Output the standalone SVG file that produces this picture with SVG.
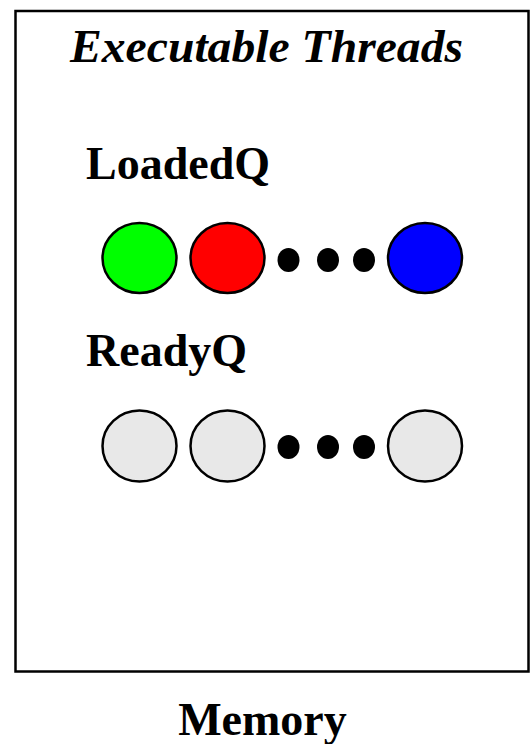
<svg xmlns="http://www.w3.org/2000/svg" width="530" height="744" viewBox="0 0 530 744">
  <style>
    .lbl { font-family: "Liberation Serif", "Times New Roman", serif; font-weight: bold; font-size: 46px; fill: #000; }
    .thread { stroke: #000; stroke-width: 2.5; }
    .dot { fill: #000; }
  </style>
  <rect width="530" height="744" fill="#fff"/>

  <g id="memory">
    <rect x="15.5" y="11" width="513" height="660.5" fill="#fff" stroke="#000" stroke-width="2.5"/>
    <text class="lbl" x="262.5" y="735" text-anchor="middle">Memory</text>
  </g>

  <g id="title">
    <text class="lbl" x="70" y="62" font-style="italic" font-size="43" textLength="393" lengthAdjust="spacingAndGlyphs">Executable Threads</text>
  </g>

  <g id="loadedq">
    <text class="lbl" x="86" y="179">LoadedQ</text>
    <ellipse class="thread" cx="139.5" cy="258" rx="37" ry="35" fill="#00ff00"/>
    <ellipse class="thread" cx="227.5" cy="258" rx="37" ry="35" fill="#ff0000"/>
    <ellipse class="dot" cx="288.5" cy="260" rx="11" ry="12"/>
    <ellipse class="dot" cx="328" cy="260" rx="11" ry="12"/>
    <ellipse class="dot" cx="364" cy="260" rx="11" ry="12"/>
    <ellipse class="thread" cx="425" cy="258" rx="37" ry="35" fill="#0000ff"/>
  </g>

  <g id="readyq">
    <text class="lbl" x="86" y="366">ReadyQ</text>
    <ellipse class="thread" cx="139.5" cy="446" rx="37" ry="35.5" fill="#e8e8e8"/>
    <ellipse class="thread" cx="227.5" cy="446" rx="37" ry="35.5" fill="#e8e8e8"/>
    <ellipse class="dot" cx="288.5" cy="447" rx="11" ry="12"/>
    <ellipse class="dot" cx="328" cy="447" rx="11" ry="12"/>
    <ellipse class="dot" cx="364" cy="447" rx="11" ry="12"/>
    <ellipse class="thread" cx="425" cy="446" rx="37" ry="35.5" fill="#e8e8e8"/>
  </g>
</svg>
